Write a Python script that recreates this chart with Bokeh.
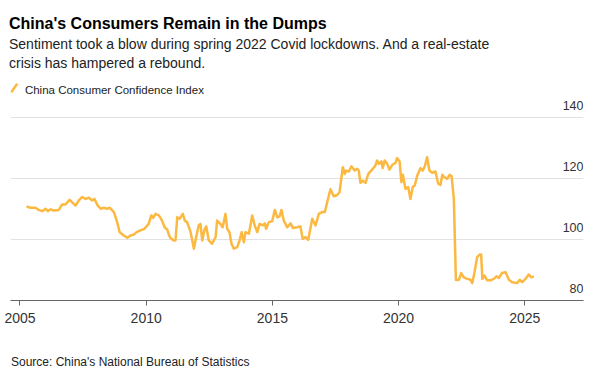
from bokeh.plotting import figure
from bokeh.models import Title, Label, Arrow, FixedTicker, Range1d, Grid
from bokeh.embed import file_html
from bokeh.resources import INLINE

# ---- data ----
dates = [
    2005.26, 2005.42, 2005.61, 2005.74, 2005.88, 2006.01, 2006.10, 2006.21, 2006.34, 2006.54,
    2006.67, 2006.80, 2006.97, 2007.07, 2007.20, 2007.33, 2007.46, 2007.60, 2007.73, 2007.86,
    2007.95, 2008.08, 2008.19, 2008.32, 2008.45, 2008.56, 2008.72, 2008.85, 2008.95, 2009.11,
    2009.25, 2009.38, 2009.51, 2009.62, 2009.77, 2009.93, 2010.04, 2010.10, 2010.20, 2010.28,
    2010.37, 2010.50, 2010.63, 2010.73, 2010.83, 2010.90, 2010.96, 2011.09, 2011.16, 2011.23,
    2011.32, 2011.45, 2011.53, 2011.62, 2011.76, 2011.89, 2011.98, 2012.08, 2012.15, 2012.22,
    2012.32, 2012.38, 2012.48, 2012.61, 2012.75, 2012.81, 2012.94, 2013.03, 2013.14, 2013.21,
    2013.30, 2013.38, 2013.47, 2013.61, 2013.70, 2013.78, 2013.87, 2013.93, 2014.07, 2014.20,
    2014.30, 2014.40, 2014.49, 2014.62, 2014.70, 2014.75, 2014.86, 2014.99, 2015.10, 2015.19,
    2015.28, 2015.36, 2015.45, 2015.59, 2015.72, 2015.81, 2015.98, 2016.11, 2016.20, 2016.31,
    2016.42, 2016.58, 2016.71, 2016.84, 2016.97, 2017.08, 2017.17, 2017.30, 2017.43, 2017.57,
    2017.66, 2017.79, 2017.87, 2017.92, 2018.03, 2018.13, 2018.26, 2018.36, 2018.42, 2018.49,
    2018.58, 2018.69, 2018.80, 2018.95, 2019.08, 2019.15, 2019.22, 2019.32, 2019.37, 2019.45,
    2019.55, 2019.64, 2019.75, 2019.88, 2019.94, 2020.04, 2020.11, 2020.17, 2020.27, 2020.38,
    2020.47, 2020.56, 2020.64, 2020.74, 2020.87, 2020.96, 2021.04, 2021.13, 2021.22, 2021.33,
    2021.46, 2021.57, 2021.66, 2021.73, 2021.83, 2021.93, 2022.02, 2022.10, 2022.19, 2022.27,
    2022.39, 2022.48, 2022.58, 2022.72, 2022.85, 2022.92, 2023.01, 2023.11, 2023.22, 2023.27,
    2023.32, 2023.40, 2023.51, 2023.64, 2023.77, 2023.88, 2023.97, 2024.10, 2024.24, 2024.37,
    2024.50, 2024.70, 2024.80, 2024.90, 2025.03, 2025.16, 2025.25, 2025.36,
]
cci = [
    110.8, 110.4, 110.4, 109.7, 109.3, 110.1, 109.3, 109.9, 109.5, 109.7,
    111.5, 111.5, 113.0, 112.2, 111.1, 112.8, 113.9, 113.3, 113.7, 112.8,
    113.3, 111.1, 110.1, 110.4, 110.1, 110.4, 109.0, 105.7, 102.4, 101.3,
    100.6, 101.3, 101.6, 102.4, 103.0, 103.5, 104.6, 105.1, 107.9, 107.1,
    108.4, 107.9, 106.2, 104.0, 103.3, 101.5, 100.5, 99.7, 99.7, 107.3,
    106.8, 108.4, 106.2, 105.7, 102.4, 97.0, 100.8, 104.6, 105.1, 99.7,
    103.5, 104.3, 99.7, 98.6, 100.8, 106.2, 105.1, 104.0, 108.4, 103.5,
    102.4, 98.6, 97.0, 97.5, 99.7, 102.4, 99.1, 102.4, 101.9, 107.9,
    104.6, 102.4, 105.1, 104.6, 105.3, 103.5, 105.7, 106.0, 109.7, 107.3,
    107.5, 109.7, 106.2, 104.0, 105.3, 103.8, 104.0, 104.3, 100.2, 100.8,
    99.9, 106.8, 104.6, 108.4, 109.0, 109.0, 112.2, 116.5, 114.2, 114.6,
    115.5, 123.7, 121.5, 122.6, 122.3, 124.0, 122.6, 123.2, 122.6, 118.6,
    119.3, 118.6, 121.5, 122.9, 124.3, 125.9, 124.8, 125.6, 123.4, 125.9,
    124.8, 122.9, 124.5, 125.1, 126.7, 125.6, 118.8, 121.2, 116.6, 117.2,
    113.3, 117.2, 117.7, 121.0, 123.4, 122.6, 124.0, 127.0, 122.6, 121.9,
    122.3, 118.3, 117.9, 121.2, 120.4, 119.9, 121.2, 120.8, 113.2, 86.7,
    86.8, 89.0, 87.6, 87.1, 86.8, 85.7, 89.3, 94.2, 95.1, 95.1,
    87.1, 88.2, 86.6, 86.6, 87.1, 87.9, 87.4, 89.0, 89.3, 86.8,
    86.0, 85.7, 86.8, 86.0, 87.1, 88.5, 87.6, 87.9,
]
x_ticks = [2005, 2010, 2015, 2020, 2025]
y_grid_ticks = [100, 120, 140]
y_tick_labels = [80, 100, 120, 140]

chart_title = "China's Consumers Remain in the Dumps"
subtitle_1 = "Sentiment took a blow during spring 2022 Covid lockdowns. And a real-estate"
subtitle_2 = "crisis has hampered a rebound."
series_name = "China Consumer Confidence Index"
source_text = "Source: China's National Bureau of Statistics"

# ---- style ----
FONT = "Liberation Sans"
LINE_COLOR = "#FBB942"
X0, X1 = 2004.624, 2027.326
Y0, Y1 = 80, 152.79

p = figure(width=610, height=371, output_backend="svg", toolbar_location=None,
           x_range=Range1d(X0, X1), y_range=Range1d(Y0, Y1),
           y_axis_location=None,
           min_border_left=10, min_border_right=27,
           min_border_top=78, min_border_bottom=71)
p.outline_line_color = None
p.background_fill_color = "white"
p.border_fill_color = "white"
p.xgrid.visible = False
p.ygrid.visible = False
p.add_layout(Grid(dimension=1, ticker=FixedTicker(ticks=y_grid_ticks),
                  grid_line_color="#e2e2e2", grid_line_width=1), "center")

ax = p.xaxis[0]
ax.ticker = FixedTicker(ticks=x_ticks)
ax.major_tick_in = 0
ax.major_tick_out = 5
ax.minor_tick_line_color = None
ax.axis_line_color = "#666666"
ax.major_tick_line_color = "#666666"
ax.major_label_text_font = FONT
ax.major_label_text_font_size = "14px"
ax.major_label_text_color = "#333333"
ax.major_label_standoff = 7

p.line(dates, cci, line_color=LINE_COLOR, line_width=2.5, line_join="round")

for v in y_tick_labels:
    p.add_layout(Label(x=X1, y=v, text=str(v), text_align="right",
                       text_baseline="alphabetic", y_offset=12,
                       text_font=FONT, text_font_size="12.5px", text_color="#333333"))

# legend row
p.add_layout(Arrow(end=None, x_start=0.8, y_start=208.3, x_end=6.7, y_end=216.7,
                   start_units="screen", end_units="screen",
                   line_color=LINE_COLOR, line_width=2.5))
p.add_layout(Label(x=14.4, y=210.3, x_units="screen", y_units="screen",
                   text=series_name, text_baseline="alphabetic",
                   text_font=FONT, text_font_size="11.5px", text_color="#222222"))

# source line (placed in the bottom panel so that it is not clipped to the frame)
p.add_layout(Label(x=X0, y=Y0, x_offset=0.5, y_offset=-61.5,
                   text=source_text, text_align="left", text_baseline="alphabetic",
                   text_font=FONT, text_font_size="12px", text_color="#222222"), "below")

# titles (added innermost first)
p.add_layout(Title(text=subtitle_2, text_font=FONT, text_font_size="14px",
                   text_font_style="normal", text_color="#222222",
                   align="left", offset=-1.5, standoff=14.7), "above")
p.add_layout(Title(text=subtitle_1, text_font=FONT, text_font_size="14px",
                   text_font_style="normal", text_color="#222222",
                   align="left", offset=-1.5, standoff=-12.3), "above")
p.add_layout(Title(text=chart_title, text_font=FONT, text_font_size="16px",
                   text_font_style="bold", text_color="#000000",
                   align="left", offset=-1.5, standoff=15.3), "above")

open("out.html", "w").write(file_html(p, INLINE))
